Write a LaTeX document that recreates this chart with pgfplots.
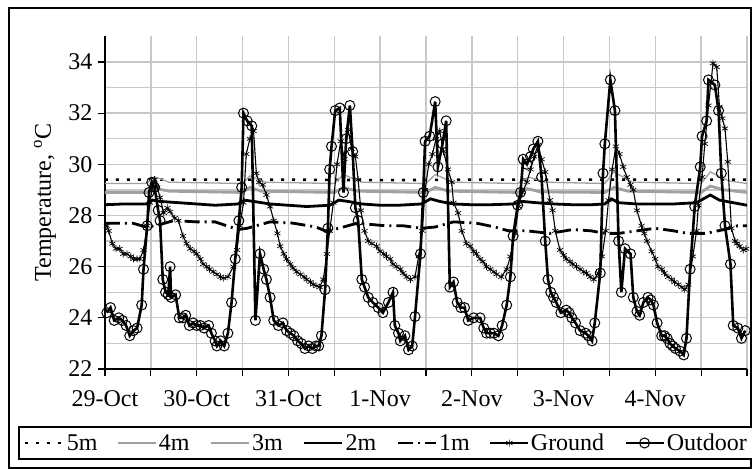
\documentclass[border=0pt]{standalone}
\usepackage{fontspec}
\setmainfont{Liberation Serif}
\usepackage{pgfplots}
\pgfplotsset{compat=1.18}
\definecolor{gridgray}{RGB}{200,200,200}
\definecolor{linegray}{RGB}{160,160,160}
\newcommand{\chartfont}{\fontsize{24}{28}\selectfont}
\begin{document}
\begin{tikzpicture}
\useasboundingbox (0pt,0pt) rectangle (752pt,470pt);
\draw[line width=1.6pt] (9pt,2pt) rectangle (751pt,462pt);
\begin{axis}[
    at={(105pt,101pt)}, anchor=south west,
    scale only axis, width=642pt, height=332.6pt,
    xmin=0, xmax=7, ymin=22, ymax=35,
    axis lines*=left,
    axis line style={line width=1.3pt, black},
    xtick={0,0.5,...,7},
    xticklabels={29-Oct,,30-Oct,,31-Oct,,1-Nov,,2-Nov,,3-Nov,,4-Nov,,},
    ytick={22,24,...,34},
    minor ytick={23,25,...,33},
    grid=both,
    major grid style={gridgray, line width=1.3pt},
    minor grid style={gridgray, line width=1.3pt},
    minor tick length=0pt,
    tick align=outside, major tick length=7pt,
    tick style={black, line width=1.2pt},
    /pgf/number format/assume math mode=true,
    xticklabel style={font=\chartfont, yshift=-11pt},
    yticklabel style={font=\chartfont, xshift=-2pt},
    ylabel={Temperature, $^{\mathrm{o}}$C},
    every axis y label/.style={at={(axis description cs:-0.0935,0.5)}, rotate=90, anchor=center, font=\chartfont},
    legend columns=7,
    legend style={at={(axis description cs:0.4385,-0.2225)}, anchor=center,
        draw=black, line width=1.4pt, font=\chartfont, inner sep=5pt,
        /tikz/every even column/.append style={column sep=18pt}},
    legend image code/.code={\draw[mark repeat=2,mark phase=2,#1] plot coordinates {(0pt,0pt) (19pt,0pt) (38pt,0pt)};},
]
% 5m
\addplot[black, line width=2.6pt, dash pattern=on 3pt off 8pt] coordinates {
(0,29.4) (1,29.4) (2,29.4) (3,29.38) (4,29.4) (5,29.4) (6,29.4) (7,29.4)};
\addlegendentry{5m}
% 4m
\addplot[linegray, line width=1.3pt] coordinates {
(0,29.25) (0.45,29.25) (0.55,29.5) (0.7,29.3) (1.5,29.25) (1.58,29.55) (1.75,29.3)
(2.5,29.25) (2.6,29.6) (2.8,29.3) (3.5,29.25) (3.6,29.6) (3.8,29.3) (4.5,29.25)
(4.62,29.5) (4.8,29.3) (5.45,29.25) (5.55,29.7) (5.75,29.3) (6.5,29.25) (6.6,29.7)
(6.8,29.35) (7.0,29.25)};
\addlegendentry{4m}
% 3m
\addplot[linegray, line width=2.8pt] coordinates {
(0,28.9) (0.45,28.9) (0.55,29.05) (0.7,28.95) (1.5,28.9) (1.58,29.1) (1.7,28.95)
(2.5,28.9) (2.6,29.1) (2.75,28.95) (3.5,28.9) (3.6,29.1) (3.75,28.95) (4.5,28.9)
(4.6,29.05) (4.75,28.92) (5.45,28.9) (5.55,29.1) (5.7,28.95) (6.5,28.9) (6.6,29.15)
(6.75,29.0) (7.0,28.9)};
\addlegendentry{3m}
% 2m
\addplot[black, line width=2.8pt] coordinates {
(0,28.42) (0.2,28.45) (0.45,28.45) (0.52,28.6) (0.6,28.55) (0.8,28.5) (1.0,28.45)
(1.2,28.4) (1.45,28.45) (1.52,28.6) (1.62,28.55) (1.8,28.45) (2.0,28.4) (2.2,28.35)
(2.45,28.4) (2.55,28.6) (2.65,28.55) (2.8,28.45) (3.0,28.4) (3.2,28.4) (3.45,28.45)
(3.55,28.65) (3.65,28.55) (3.8,28.45) (4.0,28.42) (4.2,28.42) (4.45,28.45) (4.55,28.55)
(4.7,28.5) (4.9,28.45) (5.1,28.42) (5.3,28.42) (5.45,28.45) (5.52,28.65) (5.6,28.5)
(5.8,28.45) (6.0,28.45) (6.2,28.45) (6.45,28.5) (6.6,28.8) (6.7,28.6) (6.85,28.5) (7.0,28.4)};
\addlegendentry{2m}
% 1m
\addplot[black, line width=2.8pt, dash pattern=on 15pt off 5pt on 2pt off 5pt] coordinates {
(0,27.7) (0.3,27.7) (0.45,27.55) (0.55,27.6) (0.75,27.8) (1.0,27.75) (1.2,27.75)
(1.45,27.45) (1.55,27.5) (1.8,27.75) (2.05,27.7) (2.3,27.55) (2.4,27.4) (2.55,27.5)
(2.75,27.7) (3.05,27.6) (3.25,27.6) (3.45,27.5) (3.6,27.55) (3.8,27.75) (4.05,27.7)
(4.25,27.55) (4.4,27.4) (4.6,27.4) (4.85,27.3) (5.1,27.45) (5.3,27.4) (5.45,27.3)
(5.6,27.3) (5.8,27.4) (6.0,27.5) (6.2,27.4) (6.35,27.3) (6.55,27.3) (6.75,27.45)
(6.9,27.6) (7.0,27.6)};
\addlegendentry{1m}
% Ground
\addplot[black, line width=1.1pt, mark=asterisk, mark size=3.5pt, mark options={line width=0.7pt}] coordinates {
(0.02,27.6) (0.04,27.4) (0.08,26.9) (0.12,26.7) (0.16,26.7) (0.20,26.5) (0.24,26.5)
(0.28,26.4) (0.31,26.3) (0.35,26.3) (0.38,26.3) (0.42,26.65) (0.46,27.6) (0.49,28.5)
(0.52,29.2) (0.54,29.4) (0.57,29.1) (0.60,28.7) (0.64,28.1) (0.68,28.3) (0.71,28.15)
(0.76,27.9) (0.80,27.8) (0.85,27.2) (0.89,26.9) (0.93,26.7) (0.97,26.6) (1.00,26.5)
(1.04,26.3) (1.07,26.1) (1.11,26.0) (1.14,25.9) (1.18,25.8) (1.22,25.7) (1.26,25.6)
(1.29,25.55) (1.34,25.6) (1.40,26.0) (1.44,26.65) (1.47,27.6) (1.51,28.5) (1.54,30.4)
(1.58,31.0) (1.62,31.3) (1.65,29.65) (1.68,29.3) (1.72,29.2) (1.76,28.8) (1.80,28.35)
(1.84,27.8) (1.88,27.3) (1.91,26.8) (1.95,26.5) (1.98,26.3) (2.02,26.1) (2.05,25.95)
(2.09,25.8) (2.13,25.7) (2.17,25.6) (2.20,25.5) (2.24,25.4) (2.27,25.3) (2.31,25.25)
(2.34,25.2) (2.38,25.5) (2.42,26.5) (2.45,27.4) (2.49,28.5) (2.53,30.0) (2.57,30.9)
(2.61,30.2) (2.65,31.35) (2.69,30.6) (2.73,30.3) (2.76,29.4) (2.79,28.2) (2.83,27.4)
(2.87,27.0) (2.91,26.9) (2.96,26.8) (3.00,26.6) (3.04,26.5) (3.07,26.4) (3.11,26.3)
(3.14,26.1) (3.18,26.0) (3.22,25.9) (3.25,25.75) (3.29,25.6) (3.33,25.5) (3.38,25.6)
(3.42,26.4) (3.46,27.4) (3.49,29.0) (3.53,30.0) (3.57,30.4) (3.61,31.0) (3.65,31.3)
(3.69,30.5) (3.74,29.8) (3.78,29.3) (3.80,28.5) (3.85,28.1) (3.89,27.4) (3.94,26.9)
(3.98,26.8) (4.02,26.6) (4.05,26.5) (4.09,26.3) (4.12,26.2) (4.16,26.0) (4.20,25.9)
(4.24,25.8) (4.27,25.7) (4.32,25.6) (4.38,25.9) (4.42,26.4) (4.47,27.3) (4.51,28.35)
(4.55,28.9) (4.60,29.3) (4.64,29.8) (4.68,30.3) (4.72,30.75) (4.76,30.2) (4.80,29.7)
(4.85,28.6) (4.88,28.2) (4.91,27.4) (4.96,26.65) (5.00,26.45) (5.03,26.3) (5.07,26.2)
(5.10,26.1) (5.14,26.0) (5.18,25.9) (5.22,25.8) (5.25,25.75) (5.29,25.6) (5.33,25.5)
(5.38,25.75) (5.42,26.4) (5.46,27.4) (5.49,28.6) (5.53,29.8) (5.57,30.7) (5.61,30.4)
(5.65,29.9) (5.69,29.5) (5.73,29.2) (5.76,29.0) (5.80,28.2) (5.85,27.6) (5.88,27.3)
(5.91,27.0) (5.96,26.6) (6.00,26.3) (6.03,26.0) (6.07,25.9) (6.10,25.75) (6.14,25.6)
(6.18,25.5) (6.21,25.4) (6.25,25.3) (6.29,25.2) (6.32,25.1) (6.36,25.3) (6.41,26.4)
(6.45,27.4) (6.47,28.4) (6.51,29.5) (6.54,30.8) (6.58,32.3) (6.63,33.95) (6.67,33.8)
(6.70,32.25) (6.73,31.8) (6.76,31.4) (6.79,30.1) (6.83,27.5) (6.87,27.0) (6.89,26.9)
(6.92,26.8) (6.96,26.65) (6.99,26.7)};
\addlegendentry{Ground}
% Outdoor
\addplot[black, line width=2.6pt, mark=o, mark size=5pt, mark options={line width=1pt}] coordinates {
(0.02,24.2) (0.06,24.4) (0.10,23.9) (0.15,24.0) (0.19,23.9) (0.23,23.7) (0.27,23.3)
(0.31,23.5) (0.35,23.6) (0.40,24.5) (0.42,25.9) (0.46,27.6) (0.48,28.9) (0.51,29.3)
(0.54,29.1) (0.58,28.2) (0.60,27.8) (0.63,25.5) (0.66,25.0) (0.69,24.9) (0.71,26.0)
(0.72,24.8) (0.77,24.9) (0.81,24.0) (0.85,24.0) (0.88,24.1) (0.92,23.7) (0.96,23.8)
(1.00,23.7) (1.04,23.7) (1.08,23.6) (1.13,23.7) (1.16,23.4) (1.20,23.1) (1.22,22.9)
(1.26,23.1) (1.30,22.9) (1.34,23.4) (1.38,24.6) (1.42,26.3) (1.46,27.8) (1.49,29.1)
(1.51,32.0) (1.55,31.7) (1.60,31.5) (1.64,23.9) (1.69,26.5) (1.73,25.9) (1.76,25.5)
(1.80,24.8) (1.84,23.9) (1.89,23.7) (1.94,23.8) (1.98,23.5) (2.02,23.4) (2.06,23.3)
(2.10,23.1) (2.14,23.0) (2.18,22.8) (2.22,22.9) (2.26,22.8) (2.30,22.9) (2.33,22.9)
(2.36,23.3) (2.40,25.1) (2.43,27.5) (2.45,29.8) (2.47,30.7) (2.51,32.1) (2.56,32.2)
(2.60,28.9) (2.63,31.0) (2.67,32.3) (2.70,30.5) (2.73,28.3) (2.76,27.8) (2.80,25.5)
(2.83,25.2) (2.87,24.8) (2.92,24.6) (2.98,24.4) (3.03,24.2) (3.09,24.6) (3.14,25.0)
(3.16,23.7) (3.20,23.4) (3.22,23.1) (3.27,23.3) (3.31,22.75) (3.35,22.9) (3.38,24.05)
(3.44,26.5) (3.47,28.9) (3.49,30.9) (3.54,31.1) (3.60,32.45) (3.63,29.9) (3.68,30.8)
(3.72,31.7) (3.76,25.2) (3.80,25.4) (3.84,24.6) (3.88,24.4) (3.92,24.4) (3.96,23.9)
(4.02,24.0) (4.09,24.0) (4.13,23.6) (4.16,23.4) (4.20,23.4) (4.24,23.4) (4.29,23.3)
(4.33,23.7) (4.38,24.5) (4.42,25.6) (4.45,27.2) (4.50,28.4) (4.53,28.9) (4.56,30.2)
(4.60,30.0) (4.64,30.3) (4.67,30.6) (4.72,30.9) (4.76,29.5) (4.80,27.0) (4.83,25.5)
(4.86,25.0) (4.89,24.8) (4.92,24.6) (4.97,24.2) (5.03,24.3) (5.06,24.2) (5.09,24.0)
(5.13,23.8) (5.18,23.5) (5.24,23.4) (5.27,23.3) (5.31,23.1) (5.34,23.8) (5.40,25.75)
(5.43,29.65) (5.45,30.8) (5.51,33.3) (5.56,32.1) (5.60,27.0) (5.63,25.0) (5.67,26.7)
(5.73,26.5) (5.76,24.8) (5.80,24.25) (5.83,24.1) (5.87,24.6) (5.92,24.8) (5.95,24.7)
(5.98,24.5) (6.02,23.8) (6.07,23.3) (6.10,23.3) (6.13,23.2) (6.16,23.0) (6.19,22.9)
(6.22,22.8) (6.27,22.7) (6.31,22.55) (6.34,23.2) (6.38,25.9) (6.43,28.35) (6.49,29.9)
(6.51,31.1) (6.56,31.7) (6.58,33.3) (6.65,33.1) (6.69,32.1) (6.72,29.65) (6.76,27.6)
(6.82,26.1) (6.85,23.7) (6.90,23.6) (6.94,23.2) (6.98,23.5)};
\addlegendentry{Outdoor}
\end{axis}
\end{tikzpicture}
\end{document}
